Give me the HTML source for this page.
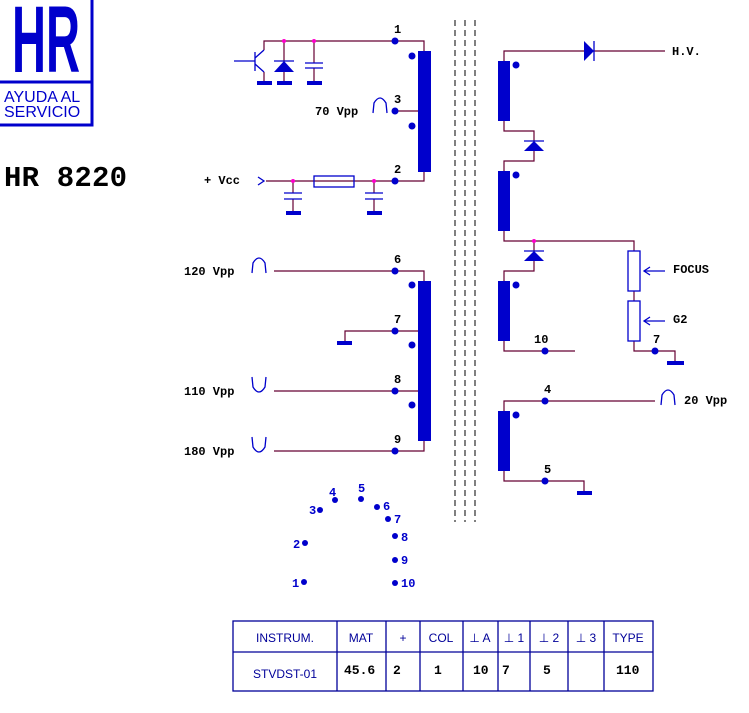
<!DOCTYPE html>
<html><head><meta charset="utf-8"><style>
html,body{margin:0;padding:0;background:#fff;width:749px;height:713px;overflow:hidden}
svg text{font-family:"Liberation Mono",monospace;font-weight:bold}
</style></head><body>
<svg width="749" height="713" viewBox="0 0 749 713" xmlns="http://www.w3.org/2000/svg">
<!-- logo -->
<rect x="-2" y="-2" width="94" height="127" fill="none" stroke="#0000cc" stroke-width="3"/>
<line x1="0" y1="82" x2="92" y2="82" stroke="#0000cc" stroke-width="3"/>
<text x="12" y="72" font-size="95" fill="#0000cc" style="font-family:'Liberation Sans',sans-serif;font-weight:bold" textLength="68" lengthAdjust="spacingAndGlyphs">HR</text>
<text x="4" y="102" font-size="16" fill="#0000cc" style="font-family:'Liberation Sans',sans-serif;font-weight:normal">AYUDA AL</text>
<text x="4" y="117" font-size="16" fill="#0000cc" style="font-family:'Liberation Sans',sans-serif;font-weight:normal">SERVICIO</text>
<text x="4" y="186" font-size="29" fill="#000" textLength="123">HR 8220</text>

<!-- dashed core -->
<g stroke="#000" stroke-width="1" stroke-dasharray="6,4">
<line x1="455" y1="20" x2="455" y2="522"/><line x1="465" y1="20" x2="465" y2="522"/><line x1="475" y1="20" x2="475" y2="522"/>
</g>

<g stroke="#660033" stroke-width="1.2" fill="none">
<polyline points="264,50 264,41 424,41 424,51"/>
<line x1="284" y1="41" x2="284" y2="81"/>
<line x1="314" y1="41" x2="314" y2="63"/><line x1="314" y1="68" x2="314" y2="81"/>
<line x1="395" y1="111" x2="424" y2="111"/>
<polyline points="266,181 424,181 424,172"/>
<line x1="293" y1="181" x2="293" y2="193"/><line x1="293" y1="199" x2="293" y2="211"/>
<line x1="374" y1="181" x2="374" y2="193"/><line x1="374" y1="199" x2="374" y2="211"/>
<line x1="264" y1="72" x2="264" y2="81"/>
<polyline points="274,271 424,271 424,281"/>
<polyline points="345,342 345,331 425,331"/>
<line x1="274" y1="391" x2="425" y2="391"/>
<polyline points="274,451 424,451 424,441"/>
<polyline points="504,61 504,51 665,51"/>
<polyline points="504,121 504,131 534,131 534,161 504,161 504,171"/>
<polyline points="504,231 504,241 634,241 634,251"/>
<polyline points="534,241 534,271 504,271 504,281"/>
<line x1="634" y1="291" x2="634" y2="301"/>
<polyline points="634,341 634,351 675,351 675,361"/>
<polyline points="504,341 504,351 575,351"/>
<polyline points="504,411 504,401 655,401"/>
<polyline points="504,471 504,481 584,481 584,491"/>
</g>

<g fill="#0000cc" stroke="none">
<rect x="418" y="51" width="13" height="121"/>
<rect x="418" y="281" width="13" height="160"/>
<rect x="498" y="61" width="12" height="60"/>
<rect x="498" y="171" width="12" height="60"/>
<rect x="498" y="281" width="12" height="60"/>
<rect x="498" y="411" width="12" height="60"/>
<circle cx="395" cy="41" r="3.5"/><circle cx="412" cy="56" r="3.5"/><circle cx="395" cy="111" r="3.5"/><circle cx="412" cy="126" r="3.5"/><circle cx="395" cy="181" r="3.5"/>
<circle cx="395" cy="271" r="3.5"/><circle cx="412" cy="285" r="3.5"/><circle cx="395" cy="331" r="3.5"/><circle cx="412" cy="345" r="3.5"/><circle cx="395" cy="391" r="3.5"/><circle cx="412" cy="405" r="3.5"/><circle cx="395" cy="451" r="3.5"/>
<circle cx="516" cy="65" r="3.5"/><circle cx="516" cy="175" r="3.5"/><circle cx="516" cy="285" r="3.5"/><circle cx="516" cy="415" r="3.5"/>
<circle cx="545" cy="351" r="3.5"/><circle cx="655" cy="351" r="3.5"/><circle cx="545" cy="401" r="3.5"/><circle cx="545" cy="481" r="3.5"/>
<rect x="257" y="81" width="15" height="4"/><rect x="277" y="81" width="15" height="4"/><rect x="307" y="81" width="15" height="4"/>
<rect x="286" y="211" width="15" height="4"/><rect x="367" y="211" width="15" height="4"/>
<rect x="337" y="341" width="15" height="4"/><rect x="667" y="361" width="17" height="4"/><rect x="577" y="491" width="15" height="4"/>
<polygon points="274,72 294,72 284,61"/>
<polygon points="584,41 584,61 594,51"/>
<polygon points="524,151 544,151 534,141"/>
<polygon points="524,261 544,261 534,251"/>
<circle cx="304" cy="582" r="3"/><circle cx="305" cy="543" r="3"/><circle cx="320" cy="510" r="3"/><circle cx="335" cy="500" r="3"/><circle cx="361" cy="499" r="3"/><circle cx="377" cy="507" r="3"/><circle cx="388" cy="519" r="3"/><circle cx="395" cy="536" r="3"/><circle cx="395" cy="560" r="3"/><circle cx="395" cy="583" r="3"/>
</g>
<g fill="#ff00cc"><circle cx="284" cy="41" r="2"/><circle cx="314" cy="41" r="2"/><circle cx="293" cy="181" r="2"/><circle cx="374" cy="181" r="2"/><circle cx="534" cy="241" r="2"/></g>

<g stroke="#0000cc" stroke-width="1.3" fill="none">
<line x1="234" y1="61" x2="255" y2="61"/><line x1="255" y1="52" x2="255" y2="71"/>
<line x1="255" y1="58" x2="264" y2="50"/><line x1="255" y1="64" x2="264" y2="72"/>
<line x1="274" y1="61" x2="294" y2="61"/>
<line x1="305" y1="63" x2="323" y2="63"/><line x1="305" y1="68" x2="323" y2="68"/>
<line x1="284" y1="193" x2="302" y2="193"/><line x1="284" y1="199" x2="302" y2="199"/>
<line x1="365" y1="193" x2="383" y2="193"/><line x1="365" y1="199" x2="383" y2="199"/>
<rect x="314" y="176" width="40" height="11"/>
<polyline points="258,177 264,181 258,185"/>
<line x1="594" y1="41" x2="594" y2="61"/>
<line x1="524" y1="141" x2="544" y2="141"/><line x1="524" y1="251" x2="544" y2="251"/>
<rect x="628" y="251" width="12" height="40"/><rect x="628" y="301" width="12" height="40"/>
<line x1="644" y1="271" x2="665" y2="271"/><polyline points="650,267 644,271 650,275"/>
<line x1="644" y1="321" x2="665" y2="321"/><polyline points="650,317 644,321 650,325"/>
<path d="M373,113 L374,103 Q380,93 386,103 L387,113"/>
<path d="M252,273 L253,263 Q259,253 265,263 L266,273"/>
<path d="M252,377 L253,387 Q259,397 265,387 L266,377"/>
<path d="M252,437 L253,447 Q259,457 265,447 L266,437"/>
<path d="M661,405 L662,395 Q668,385 674,395 L675,405"/>
</g>

<g font-size="12" fill="#000">
<text x="394" y="33">1</text><text x="394" y="103">3</text><text x="394" y="173">2</text>
<text x="315" y="115">70 Vpp</text><text x="204" y="184">+ Vcc</text>
<text x="394" y="263">6</text><text x="394" y="323">7</text><text x="394" y="383">8</text><text x="394" y="443">9</text>
<text x="184" y="275">120 Vpp</text><text x="184" y="395">110 Vpp</text><text x="184" y="455">180 Vpp</text>
<text x="672" y="55">H.V.</text><text x="673" y="273">FOCUS</text><text x="673" y="323">G2</text>
<text x="534" y="343">10</text><text x="653" y="343">7</text><text x="544" y="393">4</text><text x="544" y="473">5</text>
<text x="684" y="404">20 Vpp</text>
</g>
<g font-size="12" fill="#0000cc">
<text x="292" y="587">1</text><text x="293" y="548">2</text><text x="309" y="514">3</text><text x="329" y="496">4</text><text x="358" y="492">5</text><text x="383" y="510">6</text><text x="394" y="523">7</text><text x="401" y="541">8</text><text x="401" y="564">9</text><text x="401" y="587">10</text>
</g>

<g stroke="#000099" stroke-width="1.3" fill="none">
<rect x="233" y="621" width="420" height="70"/>
<line x1="233" y1="652" x2="653" y2="652"/>
<line x1="337" y1="621" x2="337" y2="691"/><line x1="386" y1="621" x2="386" y2="691"/><line x1="420" y1="621" x2="420" y2="691"/><line x1="463" y1="621" x2="463" y2="691"/><line x1="498" y1="621" x2="498" y2="691"/><line x1="530" y1="621" x2="530" y2="691"/><line x1="568" y1="621" x2="568" y2="691"/><line x1="604" y1="621" x2="604" y2="691"/>
</g>
<g font-size="12" fill="#000099" text-anchor="middle">
<text x="285" y="642" style="font-family:'Liberation Sans',sans-serif;font-weight:normal">INSTRUM.</text>
<text x="361" y="642" style="font-family:'Liberation Sans',sans-serif;font-weight:normal">MAT</text>
<text x="403" y="642" style="font-family:'Liberation Sans',sans-serif;font-weight:normal">+</text>
<text x="441" y="642" style="font-family:'Liberation Sans',sans-serif;font-weight:normal">COL</text>
<text x="480" y="642" style="font-family:'Liberation Sans',sans-serif;font-weight:normal">⊥ A</text>
<text x="514" y="642" style="font-family:'Liberation Sans',sans-serif;font-weight:normal">⊥ 1</text>
<text x="549" y="642" style="font-family:'Liberation Sans',sans-serif;font-weight:normal">⊥ 2</text>
<text x="586" y="642" style="font-family:'Liberation Sans',sans-serif;font-weight:normal">⊥ 3</text>
<text x="628" y="642" style="font-family:'Liberation Sans',sans-serif;font-weight:normal">TYPE</text>
<text x="285" y="678" style="font-family:'Liberation Sans',sans-serif;font-weight:normal">STVDST-01</text>
</g>
<g font-size="13" fill="#000">
<text x="344" y="674">45.6</text><text x="393" y="674">2</text><text x="434" y="674">1</text><text x="473" y="674">10</text><text x="502" y="674">7</text><text x="543" y="674">5</text><text x="616" y="674">110</text>
</g>
</svg>
</body></html>
